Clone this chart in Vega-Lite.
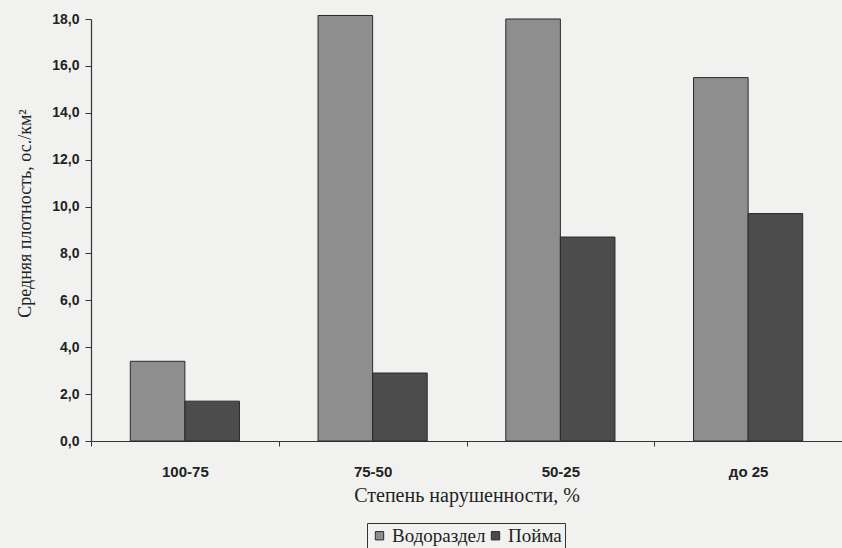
{
  "$schema": "https://vega.github.io/schema/vega-lite/v6.json",
  "width": 751,
  "height": 422,
  "autosize": {"type": "none"},
  "padding": {"left": 91, "top": 19, "right": 0, "bottom": 107},
  "background": "#f1f1ef",
  "data": {
    "values": [
      {"group": "100-75", "zone": "Водораздел", "density": 3.4},
      {"group": "100-75", "zone": "Пойма", "density": 1.7},
      {"group": "75-50", "zone": "Водораздел", "density": 18.15},
      {"group": "75-50", "zone": "Пойма", "density": 2.9},
      {"group": "50-25", "zone": "Водораздел", "density": 18.0},
      {"group": "50-25", "zone": "Пойма", "density": 8.7},
      {"group": "до 25", "zone": "Водораздел", "density": 15.5},
      {"group": "до 25", "zone": "Пойма", "density": 9.7}
    ]
  },
  "mark": {"type": "bar", "stroke": "#2a2a2a", "strokeWidth": 1},
  "encoding": {
    "x": {
      "field": "group",
      "type": "nominal",
      "sort": ["100-75", "75-50", "50-25", "до 25"],
      "scale": {"paddingInner": 0, "paddingOuter": 0},
      "title": "Степень нарушенности, %",
      "axis": {
        "labelAngle": 0,
        "tickBand": "extent",
        "tickSize": 5,
        "labelPadding": 18,
        "labelFont": "Liberation Sans",
        "labelFontWeight": "bold",
        "labelFontSize": 15,
        "labelColor": "#222",
        "titleFont": "Liberation Serif",
        "titleFontSize": 20,
        "titleFontWeight": "normal",
        "titleColor": "#222",
        "titlePadding": 6
      }
    },
    "xOffset": {
      "field": "zone",
      "type": "nominal",
      "sort": ["Водораздел", "Пойма"],
      "scale": {"paddingInner": 0, "paddingOuter": 0.72}
    },
    "y": {
      "field": "density",
      "type": "quantitative",
      "scale": {"domain": [0, 18], "nice": false},
      "title": "Средняя плотность, ос./км²",
      "axis": {
        "values": [0, 2, 4, 6, 8, 10, 12, 14, 16, 18],
        "labelExpr": "replace(format(datum.value, '.1f'), '.', ',')",
        "tickSize": 6,
        "labelPadding": 6,
        "labelFont": "Liberation Sans",
        "labelFontWeight": "bold",
        "labelFontSize": 14,
        "labelColor": "#222",
        "titleFont": "Liberation Serif",
        "titleFontSize": 18,
        "titleFontWeight": "normal",
        "titleColor": "#222",
        "titleX": -57,
        "titleY": 194
      }
    },
    "color": {
      "field": "zone",
      "type": "nominal",
      "sort": ["Водораздел", "Пойма"],
      "scale": {"domain": ["Водораздел", "Пойма"], "range": ["#8e8e8e", "#4c4c4c"]},
      "legend": {
        "title": null,
        "orient": "none",
        "legendX": 276,
        "legendY": 504,
        "direction": "horizontal",
        "symbolType": "square",
        "symbolSize": 70,
        "symbolStrokeColor": "#2a2a2a",
        "symbolStrokeWidth": 1,
        "labelFont": "Liberation Serif",
        "labelFontSize": 19,
        "labelColor": "#222",
        "labelOffset": 3,
        "columnPadding": 0,
        "padding": 3,
        "strokeColor": "#333",
        "fillColor": "#f1f1ef"
      }
    }
  },
  "config": {
    "view": {"stroke": null},
    "axis": {"grid": false, "domainColor": "#333", "tickColor": "#333", "domainWidth": 1.2}
  }
}
